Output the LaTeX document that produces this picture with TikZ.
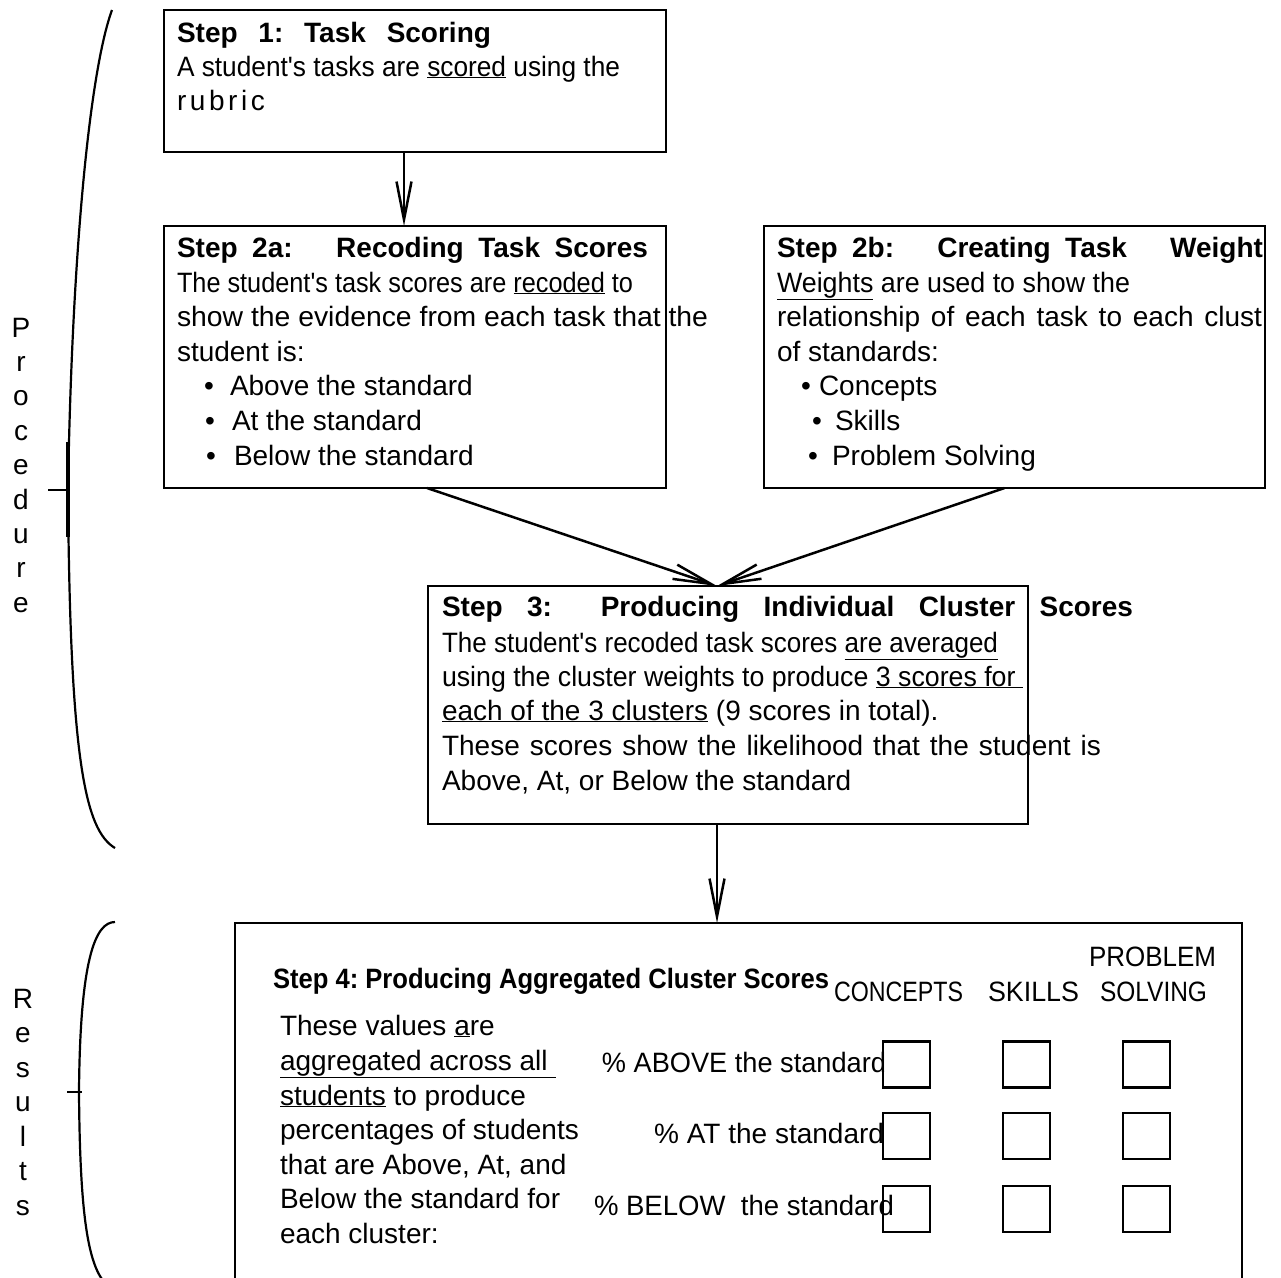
\documentclass[tikz,border=0pt]{standalone}
\usepackage{fontspec}
\setmainfont{Liberation Sans}
\usepackage{graphicx}
\usetikzlibrary{arrows.meta}
\newcommand{\fitw}[2]{\resizebox{#1}{\height}{#2}}
\newcommand{\ap}{\textquotesingle}
\begin{document}
\frenchspacing
\begin{tikzpicture}[x=1pt,y=-1pt,
  box/.style={draw, line width=2.5pt, rectangle, inner sep=0pt, outer sep=0pt},
  sq/.style={draw, line width=2.5pt, rectangle, minimum width=47pt, minimum height=46pt, inner sep=0pt, outer sep=0pt},
  txt/.style={anchor=base west, inner sep=0pt, outer sep=0pt, font=\fontsize{28}{34}\selectfont},
  txte/.style={txt, anchor=base east},
  hd/.style={txt, font=\fontsize{28}{34}\selectfont\bfseries},
  bul/.style={txt, anchor=base},
  letter/.style={anchor=base, inner sep=0pt, font=\fontsize{28}{34}\selectfont},
  arr/.style={line width=2.5pt, -{Straight Barb[length=38pt,width=15pt]}},
  brc/.style={line width=2.2pt}
]
\useasboundingbox (0,0) rectangle (1281,1277);
\clip (0,0) rectangle (1281,1277);
\fill[white] (0,0) rectangle (1281,1277);

% boxes
\node[box, minimum width=502pt, minimum height=142pt] (b1) at (415,81) {};
\node[box, minimum width=502pt, minimum height=262pt] (b2a) at (415,357) {};
\node[box, minimum width=501pt, minimum height=262pt] (b2b) at (1014.5,357) {};
\node[box, minimum width=600pt, minimum height=238pt] (b3) at (728,705) {};
\node[box, minimum width=1007pt, minimum height=377pt] (b4) at (738.5,1111.5) {};

% arrows
\draw[arr] ([xshift=-11pt]b1.south) -- ([xshift=-11pt]b1.south |- b2a.north);
\draw[arr] ([xshift=12pt]b2a.south) -- ([xshift=-11pt]b3.north);
\draw[arr] ([xshift=-10pt]b2b.south) -- ([xshift=-11pt]b3.north);
\draw[arr] ([xshift=-11pt]b3.south) -- ([xshift=-11pt]b3.south |- b4.north);

% Box 1
\node[hd] (h1) at (177,42) {\makebox[314pt][s]{Step 1: Task Scoring}};
\node[txt] (t1a) at (177,76) {\fitw{443pt}{A student\ap s tasks are \underline{scored} using the}};
\node[txt] (t1b) at (177,110) {r\kern3.6pt u\kern3.6pt b\kern3.6pt r\kern3.6pt i\kern3.6pt c};

% Box 2a
\node[hd] (h2a) at (177,257) {\makebox[471pt][s]{Step 2a:\ \ \ Recoding Task Scores}};
\node[txt] (t2a1) at (177,292) {\fitw{456pt}{The student\ap s task scores are \underline{recoded} to}};
\node[txt] (t2a2) at (177,326) {\fitw{531pt}{show the evidence from each task that the}};
\node[txt] (t2a3) at (177,361) {student is:};
\node[bul] (u2a1) at (209,395) {\textbullet};
\node[txt] (t2a4) at (230,395) {Above the standard};
\node[bul] (u2a2) at (210,430) {\textbullet};
\node[txt] (t2a5) at (232,430) {At the standard};
\node[bul] (u2a3) at (211,465) {\textbullet};
\node[txt] (t2a6) at (234,465) {Below the standard};

% Box 2b
\node[hd] (h2b) at (777,257) {\makebox[486pt][s]{Step 2b:\ \ \ Creating Task\ \ \ Weight}};
\node[txt] (t2b1) at (777,292) {\fitw{353pt}{\underline{Weights} are used to show the}};
\node[txt] (t2b2) at (777,326) {\makebox[485pt][s]{relationship of each task to each clust}};
\node[txt] (t2b3) at (777,361) {of standards:};
\node[bul] (u2b1) at (806,395) {\textbullet};
\node[txt] (t2b4) at (819,395) {Concepts};
\node[bul] (u2b2) at (817,430) {\textbullet};
\node[txt] (t2b5) at (835,430) {Skills};
\node[bul] (u2b3) at (813,465) {\textbullet};
\node[txt] (t2b6) at (832,465) {Problem Solving};

% Box 3
\node[hd] (h3) at (442,616) {\makebox[691pt][s]{Step 3:\ \ Producing Individual Cluster Scores}};
\node[txt] (t3a) at (442,652) {\fitw{556pt}{The student\ap s recoded task scores \underline{are averaged}}};
\node[txt] (t3b) at (442,686) {\fitw{581pt}{using the cluster weights to produce \underline{3 scores for\ }}};
\node[txt] (t3c) at (442,720) {\underline{each of the 3 clusters} (9 scores in total).};
\node[txt] (t3d) at (442,755) {\makebox[659pt][s]{These scores show the likelihood that the student is}};
\node[txt] (t3e) at (442,790) {Above, At, or Below the standard};

% Box 4
\node[hd] (h4) at (273,988) {\fitw{556pt}{Step 4: Producing Aggregated Cluster Scores}};
\node[txt] (c1) at (834,1001) {\fitw{129pt}{CONCEPTS}};
\node[txt] (c2) at (988,1001) {\fitw{91pt}{SKILLS}};
\node[txt] (c3a) at (1089,966) {\fitw{127pt}{PROBLEM}};
\node[txt] (c3b) at (1100,1001) {\fitw{107pt}{SOLVING}};

\node[txt] (l1) at (280,1035) {These values \underline{a}re};
\node[txt] (l2) at (280,1070) {\underline{aggregated across all\ }};
\node[txt] (l3) at (280,1105) {\underline{students} to produce};
\node[txt] (l4) at (280,1139) {percentages of students};
\node[txt] (l5) at (280,1174) {that are Above, At, and};
\node[txt] (l6) at (280,1208) {Below the standard for};
\node[txt] (l7) at (280,1243) {each cluster:};

\node[txte] (p1) at (886,1072) {\fitw{284pt}{\% ABOVE the standard}};
\node[txte] (p2) at (884,1143) {\% AT the standard};
\node[txte] (p3) at (894,1215) {\fitw{300pt}{\% BELOW\ \ the standard}};

\foreach \cx [count=\c] in {906.5,1026.5,1146.5}
  \foreach \ry [count=\r] in {1064.5,1136,1209}
    \node[sq] (s\r\c) at (\cx,\ry) {};

% braces
\draw[brc] (112,10) .. controls (90,70) and (72,250) .. (68,490)
                    .. controls (70,760) and (85,830) .. (115,848);
\draw[line width=3.5pt] (68,442) -- (68,537);
\draw[line width=2.5pt] (48,490) -- (68,490);

\draw[brc] (115,922) .. controls (95,922) and (80,960) .. (79,1092)
                     .. controls (80,1230) and (90,1280) .. (115,1290);
\draw[line width=2.5pt] (67,1092) -- (82,1092);

\foreach \ch [count=\i] in {P,r,o,c,e,d,u,r,e}
  \node[letter] (pl\i) at (21,{337+34.4*(\i-1)}) {\ch};
\foreach \ch [count=\i] in {R,e,s,u,l,t,s}
  \node[letter] (rl\i) at (23,{1008+34.5*(\i-1)}) {\ch};
\end{tikzpicture}
\end{document}
